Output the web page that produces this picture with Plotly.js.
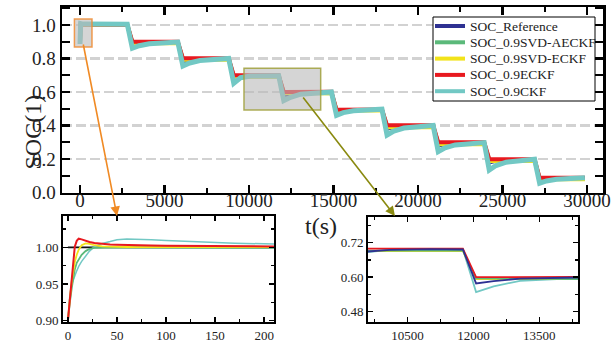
<!DOCTYPE html>
<html><head><meta charset="utf-8">
<script src="https://cdn.plot.ly/plotly-3.0.1.min.js"></script>
<style>html,body{margin:0;padding:0;background:#fff}#chart{width:616px;height:343px}</style>
</head><body><div id="chart"></div>
<script>
// ---------- DATA ----------
const seriesNames = ['SOC_Reference', 'SOC_0.9SVD-AECKF', 'SOC_0.9SVD-ECKF', 'SOC_0.9ECKF', 'SOC_0.9CKF'];
const seriesColors = ['#2e3192', '#5bb97a', '#f2e31a', '#e8191f', '#72c8c4'];

// main chart time (s)
const tMain = [0, 40, 200,
  2800, 3100, 3500, 4100, 5000,
  5790, 6090, 6490, 7090, 7990,
  8800, 9100, 9500, 10100, 11000,
  11760, 12060, 12460, 13060, 13960,
  14880, 15180, 15580, 16180, 17080,
  17870, 18170, 18570, 19170, 20070,
  20900, 21200, 21600, 22200, 23100,
  23920, 24220, 24620, 25220, 26120,
  26900, 27200, 27600, 28200, 29100,
  29880];

const socRef = [1.000, 1.000, 1.000,
  1.000, 0.876, 0.886, 0.894, 0.898,
  0.898, 0.778, 0.788, 0.796, 0.800,
  0.800, 0.676, 0.688, 0.695, 0.697,
  0.696, 0.578, 0.586, 0.595, 0.600,
  0.600, 0.475, 0.485, 0.493, 0.497,
  0.497, 0.378, 0.388, 0.396, 0.400,
  0.400, 0.276, 0.286, 0.294, 0.298,
  0.298, 0.176, 0.186, 0.194, 0.198,
  0.198, 0.066, 0.076, 0.084, 0.088,
  0.088];

const socAECKF = [0.900, 1.000, 1.000,
  1.000, 0.894, 0.894, 0.894, 0.894,
  0.895, 0.796, 0.796, 0.796, 0.796,
  0.797, 0.692, 0.692, 0.692, 0.692,
  0.692, 0.596, 0.595, 0.594, 0.593,
  0.593, 0.492, 0.492, 0.492, 0.492,
  0.493, 0.395, 0.395, 0.395, 0.395,
  0.396, 0.293, 0.293, 0.293, 0.293,
  0.294, 0.193, 0.193, 0.193, 0.193,
  0.194, 0.084, 0.084, 0.084, 0.084,
  0.084];

const socSVDECKF = [0.900, 1.001, 1.000,
  1.000, 0.891, 0.891, 0.891, 0.891,
  0.892, 0.792, 0.792, 0.792, 0.792,
  0.793, 0.690, 0.690, 0.690, 0.690,
  0.691, 0.593, 0.593, 0.593, 0.593,
  0.593, 0.489, 0.489, 0.489, 0.489,
  0.490, 0.390, 0.390, 0.390, 0.390,
  0.391, 0.288, 0.288, 0.288, 0.288,
  0.289, 0.188, 0.188, 0.188, 0.188,
  0.189, 0.079, 0.079, 0.079, 0.079,
  0.079];

const socECKF = [0.900, 1.003, 1.002,
  1.001, 0.900, 0.900, 0.899, 0.899,
  0.900, 0.801, 0.801, 0.800, 0.800,
  0.801, 0.699, 0.699, 0.699, 0.699,
  0.699, 0.600, 0.600, 0.600, 0.600,
  0.601, 0.494, 0.494, 0.494, 0.494,
  0.495, 0.401, 0.401, 0.400, 0.400,
  0.401, 0.300, 0.300, 0.300, 0.300,
  0.300, 0.199, 0.199, 0.198, 0.198,
  0.199, 0.088, 0.088, 0.088, 0.088,
  0.088];

const socCKF = [0.886, 1.008, 1.005,
  1.004, 0.861, 0.876, 0.888, 0.895,
  0.898, 0.755, 0.773, 0.788, 0.796,
  0.800, 0.652, 0.685, 0.695, 0.697,
  0.697, 0.548, 0.568, 0.587, 0.596,
  0.600, 0.461, 0.477, 0.488, 0.494,
  0.497, 0.343, 0.367, 0.385, 0.395,
  0.400, 0.244, 0.267, 0.284, 0.294,
  0.298, 0.134, 0.161, 0.181, 0.192,
  0.198, 0.055, 0.069, 0.079, 0.085,
  0.088];

// zoom 1: first 210 s
const tZoom = [0, 1, 2, 4, 7, 9, 11, 14, 18, 22, 27, 35, 43, 50, 60, 70, 85, 100, 133, 170, 210];
const zRef   = [1, 1, 1, 1, 1, 1, 1, 1, 1, 1, 1, 1, 1, 1, 1, 1, 1, 1, 1, 1, 1];
const zECKF  = [0.900, 0.915, 0.930, 0.960, 1.001, 1.009, 1.012, 1.011, 1.009, 1.0075, 1.006, 1.0048, 1.004, 1.0037, 1.0032, 1.003, 1.0026, 1.0023, 1.002, 1.0017, 1.0014];
const zSVDECKF = [0.900, 0.918, 0.930, 0.955, 0.980, 0.990, 0.997, 1.003, 1.0055, 1.005, 1.003, 1.0015, 1.001, 1.0008, 1.0006, 1.0005, 1.0004, 1.0004, 1.0003, 1.0003, 1.0003];
const zAECKF = [0.900, 0.915, 0.925, 0.945, 0.970, 0.979, 0.984, 0.990, 0.995, 0.998, 0.9995, 1.000, 1.000, 1.000, 0.9998, 0.9997, 0.9996, 0.9995, 0.9995, 0.9995, 0.9995];
const zCKF   = [0.900, 0.925, 0.935, 0.950, 0.962, 0.968, 0.974, 0.981, 0.988, 0.995, 1.001, 1.0055, 1.008, 1.0105, 1.0115, 1.0113, 1.0105, 1.0095, 1.0074, 1.0058, 1.0046];

const mainTicks = [0, 5000, 10000, 15000, 20000, 25000, 30000];
const socTicks = [0.0, 0.2, 0.4, 0.6, 0.8, 1.0];

// ---------- TRACES ----------
const FONT = '"Liberation Serif", serif';
const mainSeries = [socRef, socAECKF, socSVDECKF, socECKF, socCKF];
const mainWidths = [3, 4, 4, 4, 5];
const traces = [];
mainSeries.forEach((s, i) => {
  traces.push({x: tMain, y: s, type: 'scatter', mode: 'lines', name: seriesNames[i], showlegend: false,
    line: {color: seriesColors[i], width: mainWidths[i]}, xaxis: 'x', yaxis: 'y'});
});
// invisible carrier so the label-only time axis is drawn
traces.push({x: mainTicks, y: mainTicks.map(() => null), type: 'scatter', mode: 'lines',
  showlegend: false, hoverinfo: 'skip', xaxis: 'x4', yaxis: 'y'});
// inset 1
const zSeries = [zRef, zCKF, zAECKF, zSVDECKF, zECKF];
const zColors = ['#111111', seriesColors[4], seriesColors[1], seriesColors[2], seriesColors[3]];
const zWidths = [1.8, 1.5, 1.8, 1.8, 2];
zSeries.forEach((s, i) => {
  traces.push({x: tZoom, y: s, type: 'scatter', mode: 'lines', showlegend: false,
    line: {color: zColors[i], width: zWidths[i]}, xaxis: 'x2', yaxis: 'y2'});
});
// inset 2 (same data as main, zoomed)
const z2Order = [4, 2, 1, 3, 0];
z2Order.forEach(i => {
  traces.push({x: tMain, y: mainSeries[i], type: 'scatter', mode: 'lines', showlegend: false,
    line: {color: seriesColors[i], width: 1.8}, xaxis: 'x3', yaxis: 'y3'});
});

// ---------- LAYOUT ----------
const W = 616, H = 343;
const px = v => v / W, py = v => 1 - v / H;
const frame = {showline: true, linecolor: '#000', mirror: 'allticks', zeroline: false,
  ticks: 'inside', tickcolor: '#000'};
const tf = s => ({size: s, family: FONT, color: '#222'});

const shapes = [
  {type: 'rect', xref: 'x', yref: 'y', x0: -330, x1: 710, y0: 0.869, y1: 1.036, layer: 'above',
    fillcolor: 'rgba(185,185,185,0.6)', line: {color: 'rgba(240,140,50,0.85)', width: 1.5}},
  {type: 'rect', xref: 'x', yref: 'y', x0: 9704, x1: 14243, y0: 0.4925, y1: 0.7415, layer: 'above',
    fillcolor: 'rgba(185,185,185,0.6)', line: {color: 'rgba(160,160,60,0.85)', width: 1.5}},
  // legend box
  {type: 'rect', xref: 'paper', yref: 'paper', x0: px(433), x1: px(595), y0: py(101), y1: py(17), layer: 'above',
    fillcolor: '#fff', line: {color: '#000', width: 1}}
];
const annotations = [
  {xref: 'paper', yref: 'paper', x: px(17), y: py(93), text: 'SOC(1)', showarrow: false,
    textangle: -90, font: tf(24)},
  {xref: 'paper', yref: 'paper', x: px(321), y: py(226), text: 't(s)', showarrow: false,
    font: tf(24)},
  {xref: 'paper', yref: 'paper', x: px(117), y: py(216), ax: -34, ay: -173, axref: 'pixel', ayref: 'pixel',
    text: '', showarrow: true, arrowhead: 2, arrowsize: 1.2, arrowwidth: 1.6, arrowcolor: '#f08a24', standoff: 0},
  {xref: 'paper', yref: 'paper', x: px(395), y: py(216), ax: -93, ay: -120, axref: 'pixel', ayref: 'pixel',
    text: '', showarrow: true, arrowhead: 2, arrowsize: 1.2, arrowwidth: 1.6, arrowcolor: '#8a8a10', standoff: 0}
];
// legend entries
seriesNames.forEach((nm, i) => {
  const yy = 26 + i * 16.3;
  shapes.push({type: 'line', xref: 'paper', yref: 'paper', x0: px(435), x1: px(465), y0: py(yy), y1: py(yy),
    layer: 'above', line: {color: seriesColors[i], width: 4}});
  annotations.push({xref: 'paper', yref: 'paper', x: px(468), y: py(yy), xanchor: 'left', yanchor: 'middle',
    text: nm, showarrow: false, font: tf(13.5)});
});

const mainXRange = [-1065, 30950];
const layout = {
  width: W, height: H, margin: {l: 0, r: 0, t: 0, b: 0},
  paper_bgcolor: '#fff', plot_bgcolor: '#fff',
  font: {family: FONT, color: '#222'},
  showlegend: false,
  xaxis: Object.assign({}, frame, {domain: [px(62), px(603)], range: mainXRange,
    tickvals: mainTicks, showticklabels: false, ticklen: 8, tickwidth: 2.5, linewidth: 2.5, showgrid: false,
    minor: {ticks: 'inside', dtick: 2500, tick0: 0, ticklen: 5, tickwidth: 2, tickcolor: '#000', showgrid: false}}),
  // label-only axis for the main time ticks, sitting just under the frame
  xaxis4: {overlaying: 'x', anchor: 'free', position: py(187), side: 'bottom', range: mainXRange,
    tickvals: mainTicks, tickformat: 'd', ticks: '', showline: false, showgrid: false, zeroline: false,
    tickfont: tf(19)},
  yaxis: Object.assign({}, frame, {domain: [py(192.5), py(7)], range: [0, 1.107],
    tickvals: socTicks, tickformat: '.1f', ticklen: 8, tickwidth: 2.5, linewidth: 2.5,
    showgrid: true, gridcolor: '#d2d2d2', gridwidth: 2.5, griddash: '10px,4px',
    tickfont: tf(19),
    minor: {ticks: 'inside', dtick: 0.1, tick0: 0, ticklen: 5, tickwidth: 2, tickcolor: '#000', showgrid: false}}),
  xaxis2: Object.assign({}, frame, {domain: [px(63), px(274)], range: [-5, 210], anchor: 'y2',
    tickvals: [0, 50, 100, 150, 200], tickformat: 'd', ticklen: 5, tickwidth: 1.5, linewidth: 2, showgrid: false,
    tickfont: tf(13),
    minor: {ticks: 'inside', dtick: 25, tick0: 0, ticklen: 3, tickwidth: 1.5, tickcolor: '#000', showgrid: false}}),
  yaxis2: Object.assign({}, frame, {domain: [py(322), py(216)], range: [0.898, 1.043], anchor: 'x2',
    tickvals: [0.90, 0.95, 1.00], tickformat: '.2f', ticklen: 5, tickwidth: 1.5, linewidth: 2, showgrid: false,
    tickfont: tf(13),
    minor: {ticks: 'inside', dtick: 0.025, tick0: 0.9, ticklen: 3, tickwidth: 1.5, tickcolor: '#000', showgrid: false}}),
  xaxis3: Object.assign({}, frame, {domain: [px(368), px(578)], range: [9600, 14380], anchor: 'y3',
    tickvals: [10500, 12000, 13500], tickformat: 'd', ticklen: 5, tickwidth: 1.5, linewidth: 2, showgrid: false,
    tickfont: tf(13),
    minor: {ticks: 'inside', dtick: 750, tick0: 10500, ticklen: 3, tickwidth: 1.5, tickcolor: '#000', showgrid: false}}),
  yaxis3: Object.assign({}, frame, {domain: [py(322), py(217)], range: [0.444, 0.809], anchor: 'x3',
    tickvals: [0.48, 0.60, 0.72], tickformat: '.2f', ticklen: 5, tickwidth: 1.5, linewidth: 2, showgrid: false,
    tickfont: tf(13),
    minor: {ticks: 'inside', dtick: 0.06, tick0: 0.48, ticklen: 3, tickwidth: 1.5, tickcolor: '#000', showgrid: false}}),
  shapes: shapes,
  annotations: annotations
};

Plotly.newPlot('chart', traces, layout, {displayModeBar: false, staticPlot: true});
</script>
</body></html>
